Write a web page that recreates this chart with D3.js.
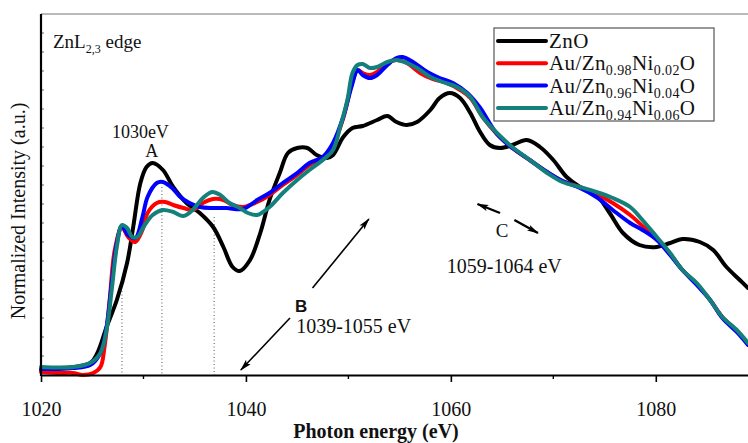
<!DOCTYPE html>
<html>
<head>
<meta charset="utf-8">
<title>ZnL2,3 edge</title>
<script src="https://cdn.jsdelivr.net/npm/d3@7/dist/d3.min.js"></script>
<style>
  body { margin: 0; background: #fff; }
  text { font-family: "Liberation Serif", "Times New Roman", serif; fill: #111; }
</style>
</head>
<body>
<svg id="chart" width="748" height="443"></svg>
<script>
// ---- data: [photon energy (eV), intensity (a.u.)] ----
var zno = [
  [1020,0.025],[1024.8,0.06],[1025.5,0.11],[1026.4,0.24],[1027.4,0.375],[1028.4,0.56],
  [1029.0,0.74],[1029.7,0.96],[1030.3,1.04],[1030.9,1.06],[1031.9,1.025],[1032.9,0.94],
  [1034.2,0.86],[1035.5,0.81],[1036.8,0.74],[1037.8,0.64],[1038.7,0.54],[1039.4,0.52],
  [1040.4,0.575],[1041.4,0.71],[1042.3,0.875],[1043.3,1.01],[1044.1,1.11],[1045.0,1.135],
  [1046.0,1.135],[1046.9,1.10],[1047.9,1.085],[1048.5,1.10],[1049.5,1.19],[1050.4,1.235],
  [1051.4,1.245],[1052.8,1.275],[1053.8,1.295],[1054.7,1.265],[1055.7,1.25],[1056.7,1.265],
  [1058.0,1.325],[1058.9,1.385],[1059.9,1.41],[1060.9,1.385],[1061.9,1.31],[1062.8,1.22],
  [1063.8,1.15],[1064.8,1.135],[1066.0,1.15],[1067.4,1.175],[1068.7,1.14],[1070.0,1.075],
  [1071.3,0.99],[1072.6,0.94],[1074.2,0.90],[1075.5,0.81],[1076.8,0.71],[1078.4,0.65],
  [1080.1,0.64],[1081.4,0.66],[1082.6,0.68],[1084.3,0.665],[1085.6,0.625],[1086.9,0.54],
  [1088.2,0.475],[1089.0,0.435]
];
var ni002 = [
  [1020,0.015],[1021.85,0.01],[1023.1,0.01],[1024.1,0.0],[1025.1,0.01],[1025.8,0.04],
  [1026.2,0.14],[1026.7,0.375],[1027.2,0.625],[1027.9,0.74],[1028.5,0.69],[1029.2,0.665],
  [1029.9,0.725],[1030.4,0.81],[1031.3,0.86],[1032.1,0.865],[1032.9,0.85],[1033.9,0.835],
  [1034.8,0.825],[1035.8,0.86],[1036.8,0.88],[1037.8,0.875],[1038.7,0.85],[1039.7,0.84],
  [1041.1,0.865],[1042.3,0.90],[1043.6,0.95],[1045.0,1.00],[1046.2,1.05],[1047.5,1.085],
  [1048.5,1.15],[1049.5,1.285],[1050.3,1.45],[1050.9,1.525],[1051.4,1.51],[1052.1,1.50],
  [1052.8,1.515],[1053.8,1.56],[1054.7,1.575],[1055.7,1.56],[1057.0,1.51],[1058.2,1.48],
  [1059.6,1.46],[1060.9,1.425],[1061.9,1.385],[1063.1,1.29],[1064.5,1.205],[1066.0,1.135],
  [1067.7,1.075],[1069.4,1.015],[1070.9,0.97],[1072.6,0.94],[1074.2,0.905],[1075.8,0.86],
  [1077.5,0.80],[1078.7,0.745],[1080.1,0.68],[1081.4,0.605],[1082.6,0.525],[1084.0,0.455],
  [1085.3,0.375],[1086.5,0.29],[1087.9,0.22],[1089.0,0.155]
];
var ni004 = [
  [1020,0.03],[1023.1,0.035],[1024.8,0.05],[1025.8,0.11],[1026.4,0.24],[1026.9,0.46],
  [1027.4,0.66],[1027.9,0.745],[1028.5,0.70],[1029.2,0.685],[1029.9,0.79],[1030.4,0.89],
  [1031.3,0.96],[1031.9,0.965],[1032.8,0.935],[1033.6,0.89],[1034.5,0.86],[1035.5,0.84],
  [1036.8,0.835],[1038.1,0.835],[1039.7,0.83],[1041.1,0.875],[1042.3,0.91],[1043.6,0.96],
  [1045.0,1.01],[1046.2,1.06],[1047.5,1.09],[1048.5,1.16],[1049.5,1.29],[1050.3,1.44],
  [1050.9,1.525],[1051.4,1.50],[1052.1,1.485],[1052.8,1.50],[1053.8,1.55],[1054.7,1.585],
  [1055.3,1.59],[1056.3,1.565],[1057.7,1.515],[1058.9,1.485],[1060.2,1.46],[1061.6,1.41],
  [1062.8,1.34],[1064.5,1.205],[1066.0,1.135],[1067.7,1.075],[1069.4,1.015],[1070.9,0.97],
  [1072.6,0.935],[1074.2,0.89],[1075.8,0.825],[1077.5,0.76],[1078.7,0.725],[1080.1,0.675],
  [1081.4,0.60],[1082.6,0.525],[1084.0,0.45],[1085.3,0.375],[1086.5,0.285],[1087.9,0.215],
  [1089.0,0.15]
];
var ni006 = [
  [1020,0.04],[1023.1,0.04],[1024.8,0.06],[1025.8,0.11],[1026.4,0.225],[1026.9,0.425],
  [1027.4,0.64],[1027.9,0.75],[1028.4,0.735],[1028.9,0.69],[1029.4,0.69],[1030.0,0.74],
  [1030.9,0.80],[1031.9,0.825],[1032.9,0.815],[1033.9,0.795],[1034.8,0.825],[1035.8,0.885],
  [1036.7,0.915],[1037.5,0.90],[1038.4,0.86],[1039.4,0.835],[1040.2,0.81],[1041.1,0.80],
  [1042.3,0.84],[1043.6,0.91],[1045.0,0.975],[1046.2,1.025],[1047.5,1.075],[1048.5,1.125],
  [1049.2,1.24],[1049.9,1.375],[1050.4,1.51],[1050.9,1.55],[1051.4,1.555],[1052.1,1.535],
  [1052.8,1.54],[1053.8,1.565],[1054.7,1.575],[1055.7,1.56],[1056.7,1.535],[1058.0,1.49],
  [1059.2,1.465],[1060.6,1.44],[1061.9,1.39],[1063.1,1.29],[1064.5,1.21],[1066.0,1.14],
  [1067.7,1.075],[1069.4,1.01],[1070.9,0.965],[1072.6,0.94],[1074.2,0.915],[1075.8,0.885],
  [1077.5,0.84],[1078.7,0.775],[1080.1,0.69],[1081.4,0.61],[1082.6,0.525],[1084.0,0.46],
  [1085.3,0.375],[1086.5,0.29],[1087.9,0.225],[1089.0,0.16]
];

var seriesNames = ["ZnO", "Au/Zn0.98Ni0.02O", "Au/Zn0.96Ni0.04O", "Au/Zn0.94Ni0.06O"];
var seriesColors = ["#000000", "#ff0000", "#0000ff", "#14807c"];
// legend text pieces: [main, sub, main, sub, main]
var legendParts = [
  ["ZnO"],
  ["Au/Zn", "0.98", "Ni", "0.02", "O"],
  ["Au/Zn", "0.96", "Ni", "0.04", "O"],
  ["Au/Zn", "0.94", "Ni", "0.06", "O"]
];
var majorTicks = [1020, 1040, 1060, 1080];
var minorTicks = [1030, 1050, 1070];
var markerLines = [1027.9, 1031.8, 1036.9];   // dotted guide energies
var markerTops = [0.42, 0.94, 0.79];

var svg = d3.select("#chart");
var W = 748, H = 443;
var margin = {left: 41, right: 0, top: 14, bottom: 68};

var x = d3.scaleLinear().domain([1020, 1089]).range([margin.left, W - margin.right]);
var y = d3.scaleLinear().domain([0, 1.805]).range([H - margin.bottom, margin.top]);

svg.append("rect").attr("width", W).attr("height", H).attr("fill", "#fff");

// top frame line
svg.append("line")
  .attr("x1", x(1020)).attr("x2", W).attr("y1", y(1.805)).attr("y2", y(1.805))
  .attr("stroke", "#777").attr("stroke-width", 1.2);

// y minor ticks (inside, no labels)
var yTicks = d3.range(0.095, 1.80, 0.095);
svg.append("g").selectAll("line").data(yTicks).enter().append("line")
  .attr("x1", x(1020)).attr("x2", x(1020) + 3)
  .attr("y1", function(d) { return y(d); }).attr("y2", function(d) { return y(d); })
  .attr("stroke", "#666").attr("stroke-width", 1);

// dotted guides
svg.append("g").selectAll("line").data(markerLines).enter().append("line")
  .attr("x1", function(d) { return x(d); }).attr("x2", function(d) { return x(d); })
  .attr("y1", function(d, i) { return y(markerTops[i]); }).attr("y2", y(0))
  .attr("stroke", "#555").attr("stroke-width", 1).attr("stroke-dasharray", "1,2.5");

// curves
var line = d3.line()
  .x(function(d) { return x(d[0]); })
  .y(function(d) { return y(d[1]); })
  .curve(d3.curveCatmullRom.alpha(0.5));

var allSeries = [zno, ni002, ni004, ni006];
svg.append("g").selectAll("path").data(allSeries).enter().append("path")
  .attr("d", line)
  .attr("fill", "none")
  .attr("stroke", function(d, i) { return seriesColors[i]; })
  .attr("stroke-width", 4)
  .attr("stroke-linejoin", "round")
  .attr("stroke-linecap", "round");

// axes
var xAxis = svg.append("g").attr("transform", "translate(0," + y(0) + ")");
xAxis.call(d3.axisBottom(x).tickValues(majorTicks).tickSize(7).tickSizeOuter(0).tickPadding(20)
  .tickFormat(d3.format("d")));
xAxis.select(".domain").attr("stroke", "#000").attr("stroke-width", 2.2);
xAxis.selectAll(".tick line").attr("stroke", "#000").attr("stroke-width", 1.6);
xAxis.selectAll(".tick text")
  .style("font-family", "'Liberation Serif', serif").style("font-size", "20px").attr("fill", "#111");
svg.append("g").selectAll("line").data(minorTicks).enter().append("line")
  .attr("x1", function(d) { return x(d); }).attr("x2", function(d) { return x(d); })
  .attr("y1", y(0)).attr("y2", y(0) + 4)
  .attr("stroke", "#000").attr("stroke-width", 1.4);

svg.append("line")
  .attr("x1", x(1020)).attr("x2", x(1020)).attr("y1", y(1.805)).attr("y2", y(0) + 1)
  .attr("stroke", "#000").attr("stroke-width", 2.2);

// axis titles
svg.append("text")
  .attr("x", 376).attr("y", 438)
  .attr("text-anchor", "middle")
  .style("font-size", "20px").style("font-weight", "bold")
  .text("Photon energy (eV)");

svg.append("text")
  .attr("transform", "translate(25," + 211 + ") rotate(-90)")
  .attr("text-anchor", "middle")
  .style("font-size", "20px")
  .text("Normalized Intensity (a.u.)");

// edge label
var edge = svg.append("text").attr("x", 53).attr("y", 48).style("font-size", "19px");
edge.append("tspan").text("ZnL");
edge.append("tspan").attr("dy", 5).style("font-size", "12px").text("2,3");
edge.append("tspan").attr("dy", -5).text(" edge");

// annotations
svg.append("text").attr("x", x(1029.7)).attr("y", y(1.185))
  .attr("text-anchor", "middle").style("font-size", "18px").text("1030eV");
svg.append("text").attr("x", x(1030.8)).attr("y", y(1.09))
  .attr("text-anchor", "middle").style("font-size", "18px").text("A");

svg.append("text").attr("x", x(1045.4)).attr("y", y(0.315))
  .attr("text-anchor", "middle")
  .style("font-family", "'Liberation Sans', Arial, sans-serif")
  .style("font-weight", "bold").style("font-size", "17px").text("B");
svg.append("text").attr("x", x(1044.9)).attr("y", y(0.21))
  .style("font-size", "20px").text("1039-1055 eV");

svg.append("text").attr("x", x(1065)).attr("y", y(0.69))
  .attr("text-anchor", "middle").style("font-size", "19px").text("C");
svg.append("text").attr("x", x(1059.6)).attr("y", y(0.51))
  .style("font-size", "20px").text("1059-1064 eV");

// arrows
var defs = svg.append("defs");
defs.append("marker").attr("id", "head")
  .attr("viewBox", "0 0 12 8").attr("refX", 11).attr("refY", 4)
  .attr("markerWidth", 12).attr("markerHeight", 8)
  .attr("markerUnits", "userSpaceOnUse").attr("orient", "auto")
  .append("path").attr("d", "M0,0.8 L12,4 L0,7.2 L2.5,4 Z").attr("fill", "#000");

var arrows = [
  {from: [1046.5, 0.435], to: [1052.0, 0.78], w: 1.6},
  {from: [1044.3, 0.285], to: [1039.5, 0.025], w: 1.6},
  {from: [1064.8, 0.81], to: [1062.6, 0.855], w: 2.4},
  {from: [1066.2, 0.775], to: [1068.5, 0.71], w: 2.4}
];
svg.append("g").selectAll("line").data(arrows).enter().append("line")
  .attr("x1", function(d) { return x(d.from[0]); })
  .attr("y1", function(d) { return y(d.from[1]); })
  .attr("x2", function(d) { return x(d.to[0]); })
  .attr("y2", function(d) { return y(d.to[1]); })
  .attr("stroke", "#000")
  .attr("stroke-width", function(d) { return d.w; })
  .attr("marker-end", "url(#head)");

// legend
var lg = svg.append("g");
lg.append("rect").attr("x", 494).attr("y", 28).attr("width", 220).attr("height", 93)
  .attr("fill", "#fff").attr("stroke", "#555").attr("stroke-width", 1.2);
var rows = lg.selectAll("g.row").data(seriesNames).enter().append("g")
  .attr("class", "row")
  .attr("transform", function(d, i) { return "translate(498," + (41 + i * 22.3) + ")"; });
rows.append("line").attr("x1", 0).attr("x2", 48)
  .attr("stroke", function(d, i) { return seriesColors[i]; })
  .attr("stroke-width", 4).attr("stroke-linecap", "round");
rows.each(function(d, i) {
  var t = d3.select(this).append("text").attr("x", 51).attr("y", 7)
    .style("font-size", "21px").style("letter-spacing", "0.4px");
  legendParts[i].forEach(function(p, k) {
    if (k % 2 === 1) {
      t.append("tspan").attr("dy", 5).style("font-size", "14px").text(p);
    } else {
      t.append("tspan").attr("dy", k > 0 ? -5 : 0).text(p);
    }
  });
});
</script>
</body>
</html>
